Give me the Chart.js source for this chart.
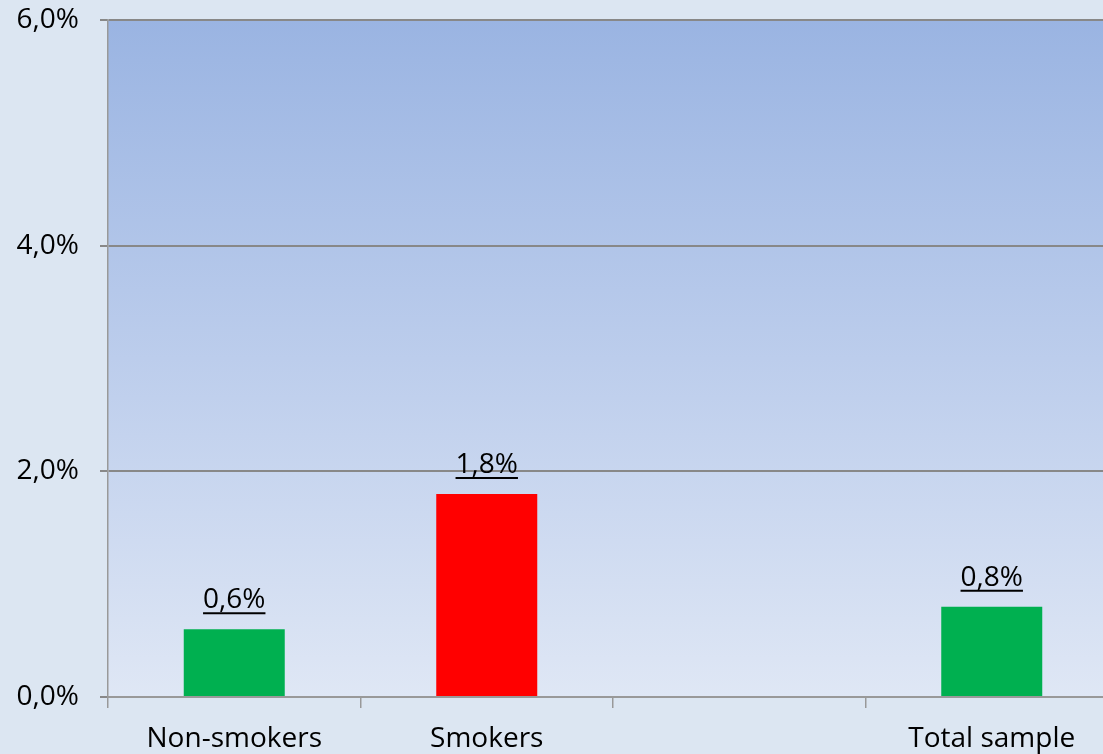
<!DOCTYPE html>
<html>
<head>
<meta charset="utf-8">
<script src="https://cdn.jsdelivr.net/npm/chart.js@4/dist/chart.umd.min.js"></script>
<style>
  html, body { margin: 0; padding: 0; overflow: hidden; background: #dce6f2; }
  #wrap { width: 1118px; height: 754px; }
</style>
</head>
<body>
<div id="wrap"><canvas id="rateChart"></canvas></div>
<script>
// categories and rates (percent)
const categories = ['Non-smokers', 'Smokers', '', 'Total sample'];
const rates = [0.6, 1.8, null, 0.8];
const barColors = ['#00b050', '#ff0000', '#00b050', '#00b050'];
const yTicks = [0, 2, 4, 6];

const FONT = '"Open Sans", sans-serif';

function fmtPct(v) {
    return v.toFixed(1).replace('.', ',') + '%';
}

// gradient fill behind the plot area
const plotBackground = {
    id: 'plotBackground',
    beforeDraw(chart) {
        const { ctx, chartArea: a } = chart;
        const g = ctx.createLinearGradient(0, a.top, 0, a.bottom);
        g.addColorStop(0, '#9ab4e2');
        g.addColorStop(0.5, '#bccdec');
        g.addColorStop(1, '#dfe7f5');
        ctx.save();
        ctx.fillStyle = g;
        ctx.fillRect(a.left, a.top, a.right - a.left, a.bottom - a.top);
        ctx.restore();
    }
};

// underlined value labels above the bars
const valueLabels = {
    id: 'valueLabels',
    afterDatasetsDraw(chart) {
        const { ctx } = chart;
        const meta = chart.getDatasetMeta(0);
        ctx.save();
        ctx.font = '28px ' + FONT;
        ctx.fillStyle = '#000';
        ctx.strokeStyle = '#000';
        ctx.lineWidth = 2;
        ctx.textAlign = 'center';
        ctx.textBaseline = 'alphabetic';
        meta.data.forEach((bar, i) => {
            const v = rates[i];
            if (v == null) return;
            const txt = fmtPct(v);
            const w = ctx.measureText(txt).width;
            const y = bar.y - 21;
            ctx.fillText(txt, bar.x, y);
            ctx.beginPath();
            ctx.moveTo(bar.x - w / 2, y + 5);
            ctx.lineTo(bar.x + w / 2, y + 5);
            ctx.stroke();
        });
        ctx.restore();
    }
};

new Chart(document.getElementById('rateChart'), {
    type: 'bar',
    data: {
        labels: categories,
        datasets: [{
            data: rates,
            backgroundColor: barColors,
            barPercentage: 0.4,
            categoryPercentage: 1.0
        }]
    },
    options: {
        responsive: true,
        maintainAspectRatio: false,
        animation: false,
        layout: { padding: 0 },
        plugins: {
            legend: { display: false },
            tooltip: { enabled: false }
        },
        scales: {
            x: {
                grid: {
                    offset: true,
                    drawOnChartArea: false,
                    drawTicks: true,
                    tickLength: 11,
                    color: '#999999',
                    lineWidth: 1.5
                },
                border: { color: '#999999', width: 2 },
                ticks: {
                    color: '#000',
                    font: { family: FONT, size: 28 },
                    padding: 14,
                    maxRotation: 0,
                    autoSkip: false
                },
                afterFit(scale) { scale.height = 57; }
            },
            y: {
                min: 0,
                max: 6,
                afterBuildTicks(scale) {
                    scale.ticks = yTicks.map(v => ({ value: v }));
                },
                grid: {
                    color: '#888888',
                    lineWidth: 2,
                    drawTicks: true,
                    tickLength: 8
                },
                border: { color: '#999999', width: 1.5 },
                ticks: {
                    color: '#000',
                    font: { family: FONT, size: 28 },
                    padding: 21,
                    callback: v => fmtPct(v)
                },
                afterFit(scale) {
                    scale.width = 108;
                    scale.paddingTop = 20;
                }
            }
        }
    },
    plugins: [plotBackground, valueLabels]
});
</script>
</body>
</html>
